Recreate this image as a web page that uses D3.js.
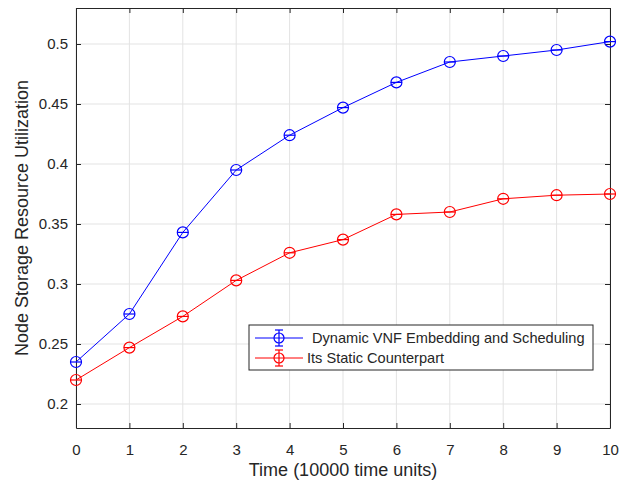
<!DOCTYPE html>
<html>
<head>
<meta charset="utf-8">
<script src="https://cdn.jsdelivr.net/npm/d3@7"></script>
<style>
  body { margin: 0; background: #fff; }
  text { font-family: 'Liberation Sans', Arial, sans-serif; fill: #262626; }
</style>
</head>
<body>
<div id="chart"></div>
<script>
// Data
const times = [0, 1, 2, 3, 4, 5, 6, 7, 8, 9, 10];
const dynamicVals = [0.235, 0.275, 0.343, 0.395, 0.424, 0.447, 0.468, 0.485, 0.490, 0.495, 0.502];
const staticVals = [0.220, 0.247, 0.273, 0.303, 0.326, 0.337, 0.358, 0.360, 0.371, 0.374, 0.375];
const seriesNames = ['Dynamic VNF Embedding and Scheduling', 'Its Static Counterpart'];
const yTicks = [0.2, 0.25, 0.3, 0.35, 0.4, 0.45, 0.5];

const width = 632;
const height = 483;
const margin = { left: 76, top: 8, right: 22, bottom: 55 };
const plotW = width - margin.left - margin.right;
const plotH = height - margin.top - margin.bottom;

const svg = d3
  .select('#chart')
  .append('svg')
  .attr('width', width)
  .attr('height', height);

const g = svg
  .append('g')
  .attr('transform', 'translate(' + margin.left + ',' + margin.top + ')');

const x = d3.scaleLinear().domain([0, 10]).range([0, plotW]);
const y = d3.scaleLinear().domain([0.18, 0.53]).range([plotH, 0]);

// Grid
g.append('g')
  .selectAll('line')
  .data(times)
  .enter()
  .append('line')
  .attr('x1', (d) => x(d))
  .attr('x2', (d) => x(d))
  .attr('y1', 0)
  .attr('y2', plotH)
  .attr('stroke', '#e3e3e3');

g.append('g')
  .selectAll('line')
  .data(yTicks)
  .enter()
  .append('line')
  .attr('x1', 0)
  .attr('x2', plotW)
  .attr('y1', (d) => y(d))
  .attr('y2', (d) => y(d))
  .attr('stroke', '#e3e3e3');

// Axes (ticks inward, box on)
const axisColor = '#262626';
const xAxis = g
  .append('g')
  .attr('transform', 'translate(0,' + plotH + ')')
  .call(d3.axisBottom(x).tickValues(times).tickSizeInner(-5).tickSizeOuter(0).tickPadding(16));
const xTop = g.append('g').call(d3.axisTop(x).tickValues(times).tickSizeInner(-5).tickSizeOuter(0).tickFormat(''));
const yAxis = g
  .append('g')
  .call(d3.axisLeft(y).tickValues(yTicks).tickSizeInner(-5).tickSizeOuter(0).tickPadding(8).tickFormat(d3.format('')));
const yRight = g
  .append('g')
  .attr('transform', 'translate(' + plotW + ',0)')
  .call(d3.axisRight(y).tickValues(yTicks).tickSizeInner(-5).tickSizeOuter(0).tickFormat(''));

[xAxis, xTop, yAxis, yRight].forEach((a) => {
  a.select('.domain').attr('stroke', axisColor);
  a.selectAll('.tick line').attr('stroke', axisColor);
  a.selectAll('text').style('font-size', '15px').attr('fill', axisColor);
});

// Axis labels
g.append('text')
  .attr('x', plotW / 2)
  .attr('y', plotH + 48)
  .attr('text-anchor', 'middle')
  .style('font-size', '18px')
  .text('Time (10000 time units)');

g.append('text')
  .attr('transform', 'rotate(-90)')
  .attr('x', -plotH / 2)
  .attr('y', -48)
  .attr('text-anchor', 'middle')
  .style('font-size', '18px')
  .text('Node Storage Resource Utilization');

// Series
const series = [
  { name: seriesNames[0], values: dynamicVals, color: '#0000ff' },
  { name: seriesNames[1], values: staticVals, color: '#ff0000' },
];

const line = d3
  .line()
  .x((d, i) => x(times[i]))
  .y((d) => y(d));

series.forEach((s) => {
  g.append('path')
    .datum(s.values)
    .attr('d', line)
    .attr('fill', 'none')
    .attr('stroke', s.color)
    .attr('stroke-width', 1);

  const pts = g
    .selectAll(null)
    .data(s.values)
    .enter()
    .append('g')
    .attr('transform', (d, i) => 'translate(' + x(times[i]) + ',' + y(d) + ')');
  pts.append('circle')
    .attr('r', 5.5)
    .attr('fill', 'none')
    .attr('stroke', s.color)
    .attr('stroke-width', 1.2);
  // zero-length error bar caps show as a horizontal dash
  pts.append('line')
    .attr('x1', -5.5)
    .attr('x2', 5.5)
    .attr('stroke', s.color)
    .attr('stroke-width', 1.2);
});

// Legend
const legend = svg.append('g').attr('transform', 'translate(249,325)');
legend.append('rect')
  .attr('width', 344)
  .attr('height', 45)
  .attr('fill', '#fff')
  .attr('stroke', axisColor)
  .attr('stroke-width', 1);

series.forEach((s, i) => {
  const row = legend.append('g').attr('transform', 'translate(0,' + (13 + i * 20) + ')');
  row.append('line').attr('x1', 6).attr('x2', 54).attr('stroke', s.color);
  row.append('line').attr('x1', 30).attr('x2', 30).attr('y1', -8).attr('y2', 8).attr('stroke', s.color).attr('stroke-width', 1.2);
  row.append('line').attr('x1', 26).attr('x2', 34).attr('y1', -8).attr('y2', -8).attr('stroke', s.color).attr('stroke-width', 1.2);
  row.append('line').attr('x1', 26).attr('x2', 34).attr('y1', 8).attr('y2', 8).attr('stroke', s.color).attr('stroke-width', 1.2);
  row.append('circle').attr('cx', 30).attr('r', 5).attr('fill', 'none').attr('stroke', s.color).attr('stroke-width', 1.2);
  row.append('text')
    .attr('x', i === 0 ? 63 : 58)
    .attr('dy', '0.35em')
    .style('font-size', '14.6px')
    .text(s.name);
});
</script>
</body>
</html>
